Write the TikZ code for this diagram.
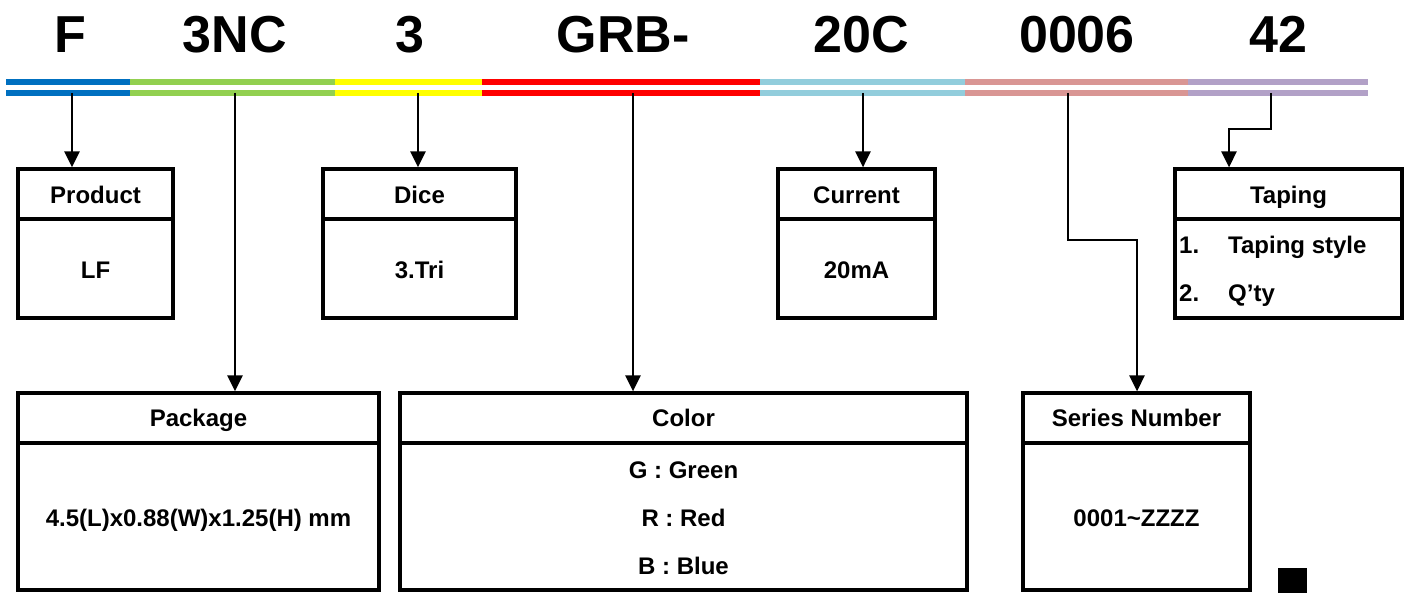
\documentclass[tikz,border=0pt]{standalone}
\usepackage{fontspec}
\setmainfont{Liberation Sans}
\usetikzlibrary{arrows.meta}
\definecolor{cBlue}{HTML}{0070C0}
\definecolor{cGreen}{HTML}{92D050}
\definecolor{cYellow}{HTML}{FFFF00}
\definecolor{cRed}{HTML}{FF0000}
\definecolor{cAqua}{HTML}{92CDDC}
\definecolor{cPink}{HTML}{D99694}
\definecolor{cPurple}{HTML}{B2A1C7}
\begin{document}
\begin{tikzpicture}[x=1pt,y=-1pt,
  box/.style={draw, line width=3.2pt, rectangle, inner sep=0pt},
  sep/.style={line width=3.2pt},
  conn/.style={line width=2.8pt, -{Triangle[length=16pt,width=15pt]}},
  lbl/.style={font=\fontsize{24}{28}\selectfont\bfseries, inner sep=0pt, anchor=base},
  code/.style={font=\fontsize{52}{60}\selectfont\bfseries, inner sep=0pt, anchor=base},
  bar/.style={line width=6pt}]
\useasboundingbox (0,0) rectangle (1408,593);

% code letters
\node[code] (tF)   at (70,53)   {F};
\node[code] (t3NC) at (235,53)  {3NC};
\node[code] (t3)   at (410,53)  {3};
\node[code] (tGRB) at (623,53)  {GRB-};
\node[code] (t20C) at (861,53)  {20C};
\node[code] (t006) at (1077,53) {0006};
\node[code] (t42)  at (1278,53) {42};

% colour bars
\foreach \a/\b/\c in {6/130/cBlue,130/335/cGreen,335/482/cYellow,482/760/cRed,760/965/cAqua,965/1188/cPink,1188/1368/cPurple}{
  \draw[bar,\c] (\a,82) -- (\b,82);
  \draw[bar,\c] (\a,93) -- (\b,93);
}

% connector starts
\coordinate (sProd) at (72,93);
\coordinate (sPack) at (235,93);
\coordinate (sDice) at (418,93);
\coordinate (sCol)  at (633,93);
\coordinate (sCur)  at (863,93);
\coordinate (sSer)  at (1068,93);
\coordinate (sTap)  at (1271,93);
\coordinate (kSer)  at (1137,240);
\coordinate (kTap)  at (1229,129);

% upper boxes
\node[box, minimum width=155pt, minimum height=149pt] (prod) at (95.5,243.5) {};
\node[box, minimum width=193pt, minimum height=149pt] (dice) at (419.5,243.5) {};
\node[box, minimum width=157pt, minimum height=149pt] (cur)  at (856.5,243.5) {};
\node[box, minimum width=227pt, minimum height=149pt] (tap)  at (1288.5,243.5) {};
\foreach \n in {prod,dice,cur,tap}{
  \draw[sep] (\n.west |- 0,219) -- (\n.east |- 0,219);
}

% lower boxes
\node[box, minimum width=361pt, minimum height=197pt] (pack) at (198.5,491.5) {};
\node[box, minimum width=567pt, minimum height=197pt] (col)  at (683.5,491.5) {};
\node[box, minimum width=227pt, minimum height=197pt] (ser)  at (1136.5,491.5) {};
\foreach \n in {pack,col,ser}{
  \draw[sep] (\n.west |- 0,443) -- (\n.east |- 0,443);
}

% texts
\node[lbl] (hProd) at (95.5,203.6) {Product};
\node[lbl] (vProd) at (95.5,278.6) {LF};
\node[lbl] (hDice) at (419.5,203.6) {Dice};
\node[lbl] (vDice) at (419.5,278.6) {3.Tri};
\node[lbl] (hCur) at (856.5,203.6) {Current};
\node[lbl] (vCur) at (856.5,278.6) {20mA};
\node[lbl] (hTap) at (1288.5,203.6) {Taping};
\node[lbl, anchor=base west] (n1) at (1179,254) {1.};
\node[lbl, anchor=base west] (v1) at (1228,254) {Taping style};
\node[lbl, anchor=base west] (n2) at (1179,302) {2.};
\node[lbl, anchor=base west] (v2) at (1228,302) {Q’ty};

\node[lbl] (hPack) at (198.5,426.6) {Package};
\node[lbl] (vPack) at (198.5,526.6) {4.5(L)x0.88(W)x1.25(H) mm};
\node[lbl] (hCol) at (683.5,426.6) {Color};
\node[lbl] (vG) at (683.5,478.6) {G : Green};
\node[lbl] (vR) at (683.5,526.6) {R : Red};
\node[lbl] (vB) at (683.5,574.6) {B : Blue};
\node[lbl] (hSer) at (1136.5,426.6) {Series Number};
\node[lbl] (vSer) at (1136.5,526.6) {0001\textasciitilde ZZZZ};

% connectors
\draw[conn] (sProd) -- (sProd |- prod.north);
\draw[conn] (sPack) -- (sPack |- pack.north);
\draw[conn] (sDice) -- (sDice |- dice.north);
\draw[conn] (sCol)  -- (sCol |- col.north);
\draw[conn] (sCur)  -- (sCur |- cur.north);
\draw[conn] (sSer) |- (kSer) -- (kSer |- ser.north);
\draw[conn] (sTap) |- (kTap) -- (kTap |- tap.north);

% black square
\fill (1278,568) rectangle (1307,593);
\end{tikzpicture}
\end{document}
